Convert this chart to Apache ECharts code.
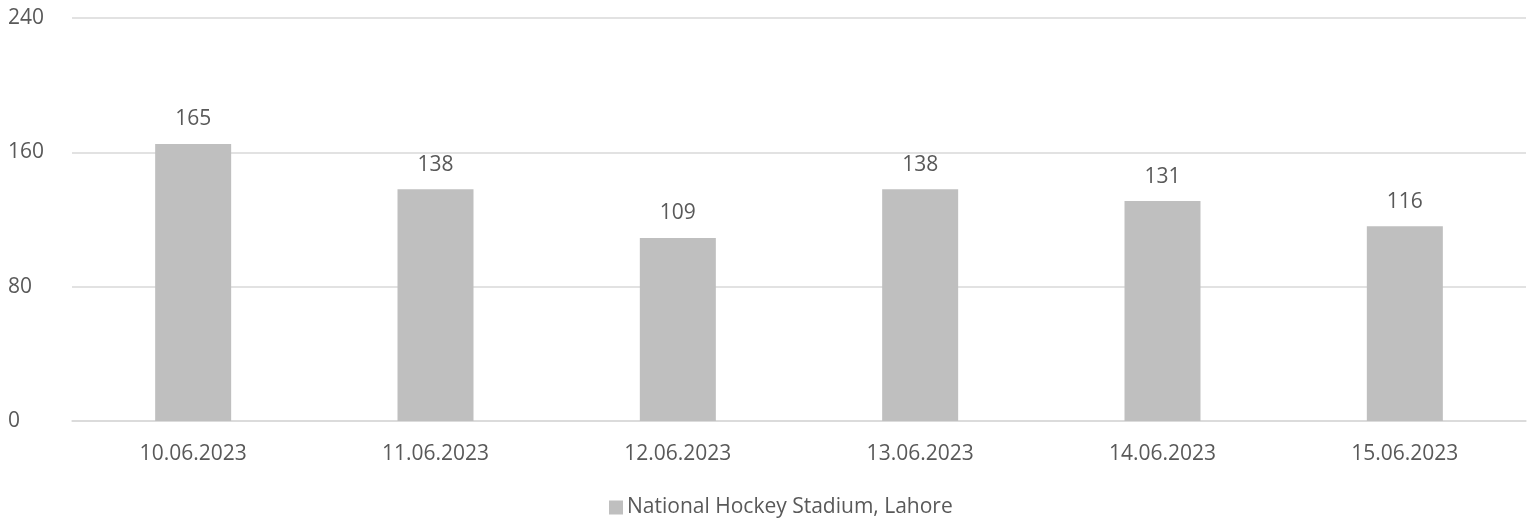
<!DOCTYPE html>
<html>
<head>
<meta charset="utf-8">
<script src="https://cdn.jsdelivr.net/npm/echarts@6/dist/echarts.min.js"></script>
<style>
  html,body{margin:0;padding:0;background:#fff;}
  #chart{width:1534px;height:519px;}
</style>
</head>
<body>
<div id="chart"></div>
<script>
// data
var categories = ['10.06.2023','11.06.2023','12.06.2023','13.06.2023','14.06.2023','15.06.2023'];
var stadiumValues = [165, 138, 109, 138, 131, 116];
var seriesName = 'National Hockey Stadium, Lahore';

var txt = '#595959';
var font = 'Open Sans';

var myChart = echarts.init(document.getElementById('chart'));
var option = {
    animation:false,
    textStyle:{fontFamily:font},
    grid:{left:72, right:8, top:18, bottom:98, containLabel:false, outerBoundsMode:'none'},
    legend:{
        top:492,
        left:604,
        itemWidth:14,
        itemHeight:14,
        icon:'rect',
        itemGap:6,
        textStyle:{color:txt, fontSize:21, fontFamily:font, padding:[0,0,0,-1]},
        data:[seriesName]
    },
    xAxis:{
        type:'category',
        data:categories,
        axisLine:{lineStyle:{color:'#d9d9d9', width:1.5}},
        axisTick:{show:false},
        axisLabel:{color:txt, fontSize:21, margin:23}
    },
    yAxis:{
        type:'value',
        min:0, max:240, interval:80,
        axisLine:{show:false},
        axisTick:{show:false},
        splitLine:{lineStyle:{color:'#d9d9d9', width:1.5}},
        axisLabel:{color:txt, fontSize:21, margin:64, align:'left'}
    },
    series:[{
        name:seriesName,
        type:'bar',
        data:stadiumValues,
        barWidth:76,
        itemStyle:{color:'#bfbfbf'},
        label:{show:true, position:'top', distance:14, color:txt, fontSize:21}
    }]
};
myChart.setOption(option);
</script>
</body>
</html>
